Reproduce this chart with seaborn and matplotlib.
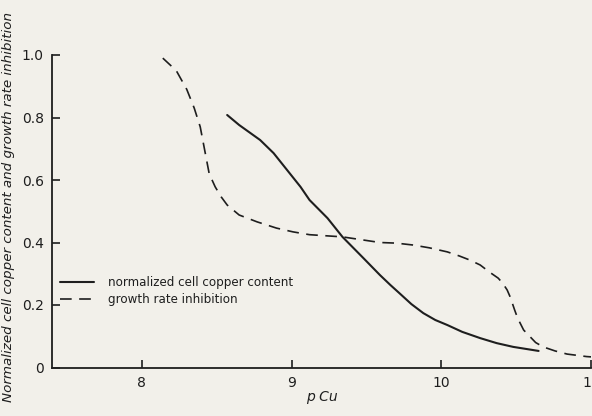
import matplotlib
matplotlib.use("Agg")
import matplotlib.pyplot as plt
import seaborn as sns
import pandas as pd

# Data
pcu_copper = [8.57, 8.65, 8.79, 8.88, 8.97, 9.06, 9.12, 9.24, 9.34, 9.48, 9.59, 9.66,
              9.72, 9.80, 9.88, 9.96, 10.04, 10.14, 10.26, 10.37, 10.48, 10.65]
copper_content = [0.808, 0.776, 0.728, 0.686, 0.632, 0.578, 0.536, 0.478, 0.418, 0.350,
                  0.296, 0.264, 0.238, 0.203, 0.174, 0.152, 0.136, 0.114, 0.094, 0.078,
                  0.066, 0.053]

pcu_growth = [8.14, 8.23, 8.30, 8.35, 8.39, 8.41, 8.43, 8.45, 8.49, 8.53, 8.57, 8.65,
              8.77, 8.90, 9.01, 9.12, 9.34, 9.59, 9.70, 9.81, 9.92, 10.04, 10.12, 10.19,
              10.26, 10.32, 10.38, 10.41, 10.44, 10.46, 10.49, 10.51, 10.55, 10.63,
              10.68, 10.76, 10.84, 10.97, 11.0]
growth_inhibition = [0.99, 0.95, 0.89, 0.83, 0.77, 0.72, 0.67, 0.62, 0.578, 0.546,
                     0.52, 0.488, 0.466, 0.446, 0.434, 0.425, 0.418, 0.40, 0.398, 0.392,
                     0.383, 0.37, 0.357, 0.344, 0.328, 0.306, 0.286, 0.27, 0.248, 0.226,
                     0.184, 0.158, 0.12, 0.08, 0.066, 0.053, 0.043, 0.035, 0.034]

x_ticks = [8, 9, 10, 11]
x_tick_labels = ["8", "9", "10", "11"]
y_ticks = [0, 0.2, 0.4, 0.6, 0.8, 1.0]
y_tick_labels = ["0", "0.2", "0.4", "0.6", "0.8", "1.0"]

df_cu = pd.DataFrame({"pCu": pcu_copper, "value": copper_content})
df_gr = pd.DataFrame({"pCu": pcu_growth, "value": growth_inhibition})

sns.set_theme(style="ticks")
plt.rcParams["font.family"] = ["DejaVu Sans"]

paper = "#f2f0ea"
ink = "#1e1e1e"

fig = plt.figure(figsize=(5.92, 4.16), dpi=100, facecolor=paper)
ax = fig.add_axes([52 / 592, 1 - 367.5 / 416, (591 - 52) / 592, (367.5 - 55) / 416])
ax.set_facecolor(paper)

sns.lineplot(data=df_cu, x="pCu", y="value", sort=False, ax=ax, color=ink,
             linewidth=1.5, label="normalized cell copper content")
sns.lineplot(data=df_gr, x="pCu", y="value", sort=False, ax=ax, color=ink,
             linewidth=1.2, linestyle=(0, (7, 4.5)), label="growth rate inhibition")

ax.set_xlim(7.4, 11.0)
ax.set_ylim(0, 1.0)
ax.set_xticks(x_ticks)
ax.set_xticklabels(x_tick_labels)
ax.set_yticks(y_ticks)
ax.set_yticklabels(y_tick_labels)
ax.tick_params(direction="in", length=6, width=1.2, colors=ink, labelsize=10, pad=6)

for side in ["top", "right"]:
    ax.spines[side].set_visible(False)
for side in ["left", "bottom"]:
    ax.spines[side].set_color(ink)
    ax.spines[side].set_linewidth(1.3)

ax.set_xlabel("p Cu", fontsize=10, fontstyle="italic", color=ink, labelpad=0)
ax.set_ylabel("Normalized cell copper content and growth rate inhibition", fontsize=9.7,
              fontstyle="italic", color=ink)
ax.yaxis.set_label_coords(-0.068, 0.514)

leg = ax.legend(loc="upper left", bbox_to_anchor=(0.0, 0.318), frameon=False,
                fontsize=8.6, handlelength=2.8, handletextpad=1.2, labelspacing=0.3,
                borderaxespad=0.3)
for t in leg.get_texts():
    t.set_color(ink)

fig.savefig("out.png", dpi=100, facecolor=paper)
